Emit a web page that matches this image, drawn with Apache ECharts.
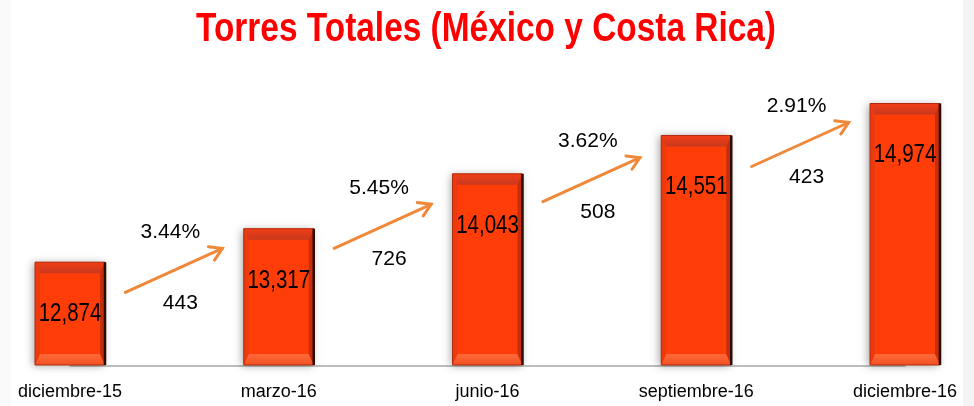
<!DOCTYPE html>
<html>
<head>
<meta charset="utf-8">
<script src="https://cdn.jsdelivr.net/npm/echarts@6/dist/echarts.min.js"></script>
<style>
  html, body { margin: 0; padding: 0; background: #fff; }
  #chart { width: 974px; height: 406px; }
</style>
</head>
<body>
<div id="chart"></div>
<script>
var categories = ['diciembre-15', 'marzo-16', 'junio-16', 'septiembre-16', 'diciembre-16']
var torres = [12874, 13317, 14043, 14551, 14974]
var crecimiento = ['3.44%', '5.45%', '3.62%', '2.91%']
var diferencia = [443, 726, 508, 423]

var Y_MIN = 11500
var Y_MAX = 16000
var BAR_W = 70
var SANS = '"Liberation Sans", Arial, sans-serif'
var NARROW_SCALE = 0.82 // imita Arial Narrow
var ARROW_COLOR = '#F0883A'

var chart = echarts.init(document.getElementById('chart'))

function fmt(v) {
  return v.toLocaleString('en-US')
}

// barras con efecto bisel
function renderBar(params, api) {
  var top = api.coord([api.value(0), api.value(1)])
  var base = api.coord([api.value(0), Y_MIN])
  var x0 = top[0] - BAR_W / 2
  var x1 = top[0] + BAR_W / 2
  var y0 = top[1]
  var y1 = base[1] - 1
  var b = 5
  var bt = 11
  return {
    type: 'group',
    children: [
      {
        type: 'rect',
        shape: { x: x0, y: y0, width: BAR_W, height: y1 - y0 },
        style: { fill: '#FF3D08', shadowBlur: 8, shadowColor: 'rgba(0,0,0,0.35)', shadowOffsetX: -2, shadowOffsetY: 1 }
      },
      {
        type: 'polygon',
        shape: { points: [[x0, y0], [x1, y0], [x1 - b, y0 + bt], [x0 + b, y0 + bt]] },
        style: {
          fill: new echarts.graphic.LinearGradient(0, 0, 0, 1, [
            { offset: 0, color: '#F23E16' },
            { offset: 1, color: '#C8381E' }
          ])
        }
      },
      {
        type: 'polygon',
        shape: { points: [[x0, y1], [x1, y1], [x1 - b, y1 - bt], [x0 + b, y1 - bt]] },
        style: {
          fill: new echarts.graphic.LinearGradient(0, 0, 0, 1, [
            { offset: 0, color: '#FF6A3A' },
            { offset: 1, color: '#F25022' }
          ])
        }
      },
      {
        type: 'polygon',
        shape: { points: [[x0, y0], [x0 + b, y0 + bt], [x0 + b, y1 - bt], [x0, y1]] },
        style: { fill: '#EC3A0E' }
      },
      {
        type: 'polygon',
        shape: { points: [[x1, y0], [x1 - b, y0 + bt], [x1 - b, y1 - bt], [x1, y1]] },
        style: { fill: '#C42E0A' }
      },
      {
        type: 'rect',
        shape: { x: x0, y: y0, width: BAR_W, height: y1 - y0 },
        style: { fill: 'none', stroke: '#B02C10', lineWidth: 1 }
      },
      {
        type: 'line',
        shape: { x1: x1, y1: y0, x2: x1, y2: y1 },
        style: { stroke: '#2A0E06', lineWidth: 2.5 }
      },
      {
        type: 'text',
        x: top[0],
        y: y0 + 52,
        scaleX: NARROW_SCALE,
        style: {
          x: 0,
          y: 0,
          text: fmt(api.value(1)),
          fill: '#000',
          font: '25px ' + SANS,
          align: 'center',
          verticalAlign: 'middle'
        }
      }
    ]
  }
}

// flechas de crecimiento entre trimestres
function renderArrow(params, api) {
  var i = api.value(0)
  var p0 = api.coord([i, api.value(1)])
  var p1 = api.coord([i + 1, api.value(2)])
  var mx = (p0[0] + p1[0]) / 2
  var my = (p0[1] + p1[1]) / 2 + 25
  var sx = mx - 49, sy = my + 22
  var ex = mx + 48, ey = my - 22
  var ang = Math.atan2(ey - sy, ex - sx)
  var h = 14
  var spread = 0.55
  var ha = [ex - h * Math.cos(ang - spread), ey - h * Math.sin(ang - spread)]
  var hb = [ex - h * Math.cos(ang + spread), ey - h * Math.sin(ang + spread)]
  var pct = crecimiento[params.dataIndex]
  var dif = diferencia[params.dataIndex]
  return {
    type: 'group',
    children: [
      {
        type: 'line',
        shape: { x1: sx, y1: sy, x2: ex, y2: ey },
        style: { stroke: ARROW_COLOR, lineWidth: 3, lineCap: 'round' }
      },
      {
        type: 'polyline',
        shape: { points: [ha, [ex, ey], hb] },
        style: { stroke: ARROW_COLOR, lineWidth: 3, fill: 'none', lineCap: 'round', lineJoin: 'miter' }
      },
      {
        type: 'text',
        style: {
          x: mx - 4, y: my - 38, text: pct, fill: '#000',
          font: '21px ' + SANS, align: 'center', verticalAlign: 'middle'
        }
      },
      {
        type: 'text',
        style: {
          x: mx + 6, y: my + 33, text: String(dif), fill: '#000',
          font: '21px ' + SANS, align: 'center', verticalAlign: 'middle'
        }
      }
    ]
  }
}

var arrowData = []
for (var k = 0; k < torres.length - 1; k++) {
  arrowData.push([k, torres[k], torres[k + 1]])
}

chart.setOption({
  backgroundColor: '#fff',
  animation: false,
  graphic: [
    { type: 'rect', left: 0, top: 0, shape: { width: 11, height: 406 }, style: { fill: '#FAFAFA' }, z: -10 },
    { type: 'rect', right: 0, top: 0, shape: { width: 11, height: 406 }, style: { fill: '#F4F4F4' }, z: -10 },
    {
      type: 'text',
      x: 486,
      y: 30,
      scaleX: 0.815,
      style: {
        x: 0,
        y: 0,
        text: 'Torres Totales (México y Costa Rica)',
        fill: '#FF0000',
        font: 'bold 41px ' + SANS,
        align: 'center',
        verticalAlign: 'middle'
      }
    }
  ],
  grid: {
    left: 70,
    right: 69,
    top: 26,
    bottom: 40,
    containLabel: false
  },
  xAxis: {
    type: 'category',
    data: categories,
    boundaryGap: false,
    axisLine: { show: true, lineStyle: { color: '#A8A8A8', width: 1.5 } },
    axisTick: { show: false },
    axisLabel: {
      color: '#000',
      fontSize: 18,
      fontFamily: SANS,
      margin: 17,
      interval: 0
    },
    splitLine: { show: false }
  },
  yAxis: {
    type: 'value',
    min: Y_MIN,
    max: Y_MAX,
    show: false,
    splitLine: { show: false }
  },
  series: [
    {
      type: 'custom',
      name: 'Torres',
      renderItem: renderBar,
      encode: { x: 0, y: 1 },
      data: torres.map(function (v, idx) { return [idx, v] }),
      z: 2
    },
    {
      type: 'custom',
      name: 'Crecimiento',
      renderItem: renderArrow,
      encode: { x: 0, y: [1, 2] },
      data: arrowData,
      z: 3
    }
  ]
})
</script>
</body>
</html>
